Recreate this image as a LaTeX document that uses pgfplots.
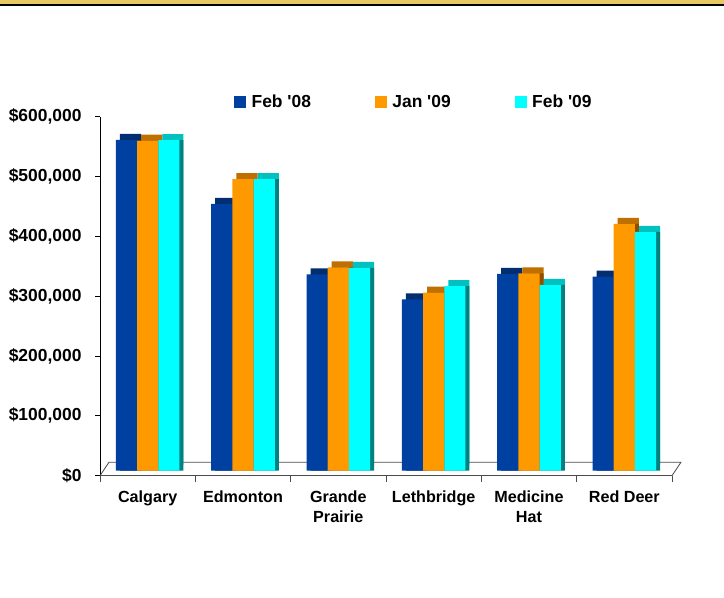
\documentclass[border=0pt]{standalone}
\usepackage{pgfplots}
\usepackage{pgfplotstable}
\pgfplotsset{compat=1.18}
\usepackage{fontspec}
\setmainfont{Liberation Sans}
\definecolor{cblue}{RGB}{0,64,160}
\definecolor{cbluetop}{RGB}{0,46,112}
\definecolor{cblueside}{RGB}{0,40,100}
\definecolor{corange}{RGB}{255,153,0}
\definecolor{corangetop}{RGB}{192,112,0}
\definecolor{corangeside}{RGB}{140,80,0}
\definecolor{ccyan}{RGB}{0,255,255}
\definecolor{ccyantop}{RGB}{0,192,192}
\definecolor{ccyanside}{RGB}{0,128,128}
\definecolor{gold}{RGB}{232,200,96}
\pgfplotstableread{
x a b c
0 553000 551500 552500
1 446000 487500 487500
2 328000 340000 339000
3 286500 297500 308500
4 329000 330000 310500
5 324500 412500 399000
}\data
\begin{document}
\begin{tikzpicture}
\useasboundingbox (0bp,0bp) rectangle (724bp,-598bp);
\fill[white] (0bp,0bp) rectangle (724bp,-598bp);
\fill[gold] (0bp,0bp) rectangle (724bp,-3.5bp);
\fill[black] (0bp,-3.5bp) rectangle (724bp,-6bp);
\begin{axis}[
  at={(100bp,-475.7bp)}, anchor=south west,
  scale only axis, width=572bp, height=359bp,
  xmin=-0.5, xmax=5.5, ymin=0, ymax=600000,
  clip=false,
  axis x line*=bottom, axis y line*=left,
  x axis line style={gray!60!black, line width=0.8bp},
  y axis line style={black, line width=0.8bp},
  tick align=outside,
  major tick length=5bp, minor tick length=6bp,
  every major x tick/.append style={draw=none},
  every minor x tick/.append style={gray!60!black, line width=0.8bp},
  every major y tick/.append style={black, line width=0.8bp},
  xtick={0,...,5},
  minor xtick={-0.5,0.5,...,5.5},
  xticklabels={Calgary,Edmonton,{Grande\\Prairie},Lethbridge,{Medicine\\Hat},Red Deer},
  ytick={0,100000,...,600000},
  yticklabels={{\$0},{\$100,000},{\$200,000},{\$300,000},{\$400,000},{\$500,000},{\$600,000}},
  scaled y ticks=false,
  yticklabel style={font=\bfseries\fontsize{17.5}{20}\selectfont, anchor=east, xshift=-10bp},
  xticklabel style={font=\bfseries\fontsize{16.2}{20}\selectfont, align=center, anchor=north, yshift=-7bp},
  legend columns=3,
  legend style={draw=none, fill=none, inner sep=0pt, at={(0.2343,1.041)}, anchor=west,
    font=\bfseries\fontsize{17.5}{20}\selectfont,
    /tikz/every odd column/.append style={column sep=4bp},
    /tikz/every even column/.append style={column sep=62bp}},
  legend cell align=left,
]
\draw[gray!60!black, line width=0.8bp] (axis cs:-0.5,0) -- ([shift={(9bp,13.5bp)}]axis cs:-0.5,0) -- ([shift={(9bp,13.5bp)}]axis cs:5.5,0) -- (axis cs:5.5,0);
% top faces
\addplot[ybar, bar width=21.2bp, bar shift=-21.2bp, fill=cbluetop, draw=none, xshift=4bp, yshift=11bp, forget plot] table[x=x,y=a]{\data};
\addplot[ybar, bar width=21.2bp, bar shift=0bp, fill=corangetop, draw=none, xshift=4bp, yshift=11bp, forget plot] table[x=x,y=b]{\data};
\addplot[ybar, bar width=21.2bp, bar shift=21.2bp, fill=ccyantop, draw=none, xshift=4bp, yshift=11bp, forget plot] table[x=x,y=c]{\data};
% side faces
\addplot[ybar, bar width=21.2bp, bar shift=-21.2bp, fill=cblueside, draw=none, xshift=4bp, yshift=5bp, forget plot] table[x=x,y=a]{\data};
\addplot[ybar, bar width=21.2bp, bar shift=0bp, fill=corangeside, draw=none, xshift=4bp, yshift=5bp, forget plot] table[x=x,y=b]{\data};
\addplot[ybar, bar width=21.2bp, bar shift=21.2bp, fill=ccyanside, draw=none, xshift=4bp, yshift=5bp, forget plot] table[x=x,y=c]{\data};
% front faces
\addplot[ybar, bar width=21.2bp, bar shift=-21.2bp, fill=cblue, draw=none, yshift=5bp, forget plot] table[x=x,y=a]{\data};
\addplot[ybar, bar width=21.2bp, bar shift=0bp, fill=corange, draw=none, yshift=5bp, forget plot] table[x=x,y=b]{\data};
\addplot[ybar, bar width=21.2bp, bar shift=21.2bp, fill=ccyan, draw=none, yshift=5bp, forget plot] table[x=x,y=c]{\data};
\addlegendimage{legend image code/.code={\fill[cblue] (0bp,-5.5bp) rectangle (11bp,5.5bp);}}
\addlegendentry{Feb \textquotesingle08}
\addlegendimage{legend image code/.code={\fill[corange] (0bp,-5.5bp) rectangle (11bp,5.5bp);}}
\addlegendentry{Jan \textquotesingle09}
\addlegendimage{legend image code/.code={\fill[ccyan] (0bp,-5.5bp) rectangle (11bp,5.5bp);}}
\addlegendentry{Feb \textquotesingle09}
\end{axis}
\end{tikzpicture}
\end{document}
